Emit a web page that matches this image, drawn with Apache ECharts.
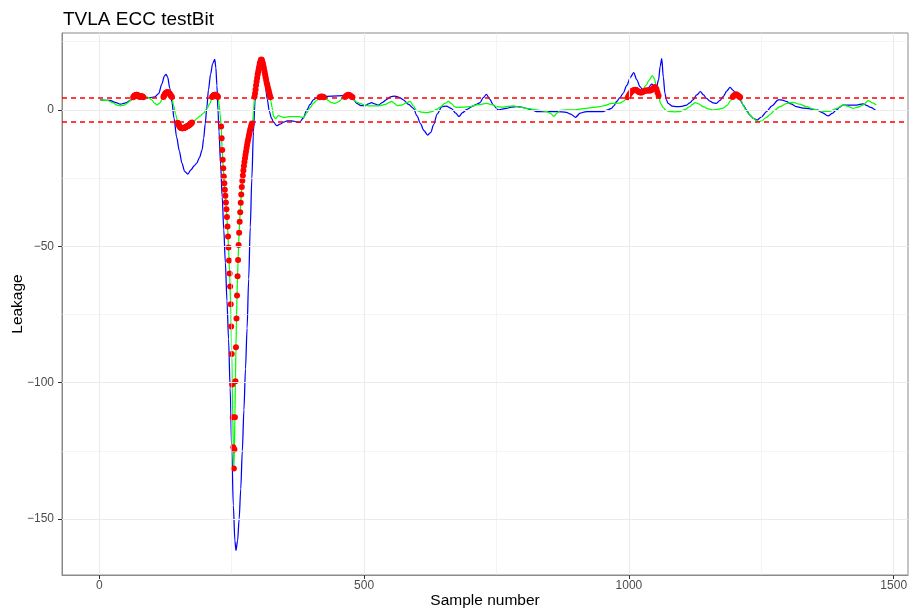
<!DOCTYPE html>
<html>
<head>
<meta charset="utf-8">
<script src="https://cdn.jsdelivr.net/npm/echarts@6/dist/echarts.min.js"></script>
<style>
html,body{margin:0;padding:0;background:#fff;}
#chart{width:909px;height:612px;}
</style>
</head>
<body>
<div id="chart"></div>
<script>
// ---- data ----
const titleText = 'TVLA ECC testBit';
const xTicks = [0, 500, 1000, 1500];
const xMinor = [250, 750, 1250];
const yTicks = [0, -50, -100, -150];
const yMinor = [25, -25, -75, -125];
const thresholds = [4.5, -4.5];

// blue series (sample number, leakage)
const blueX = [1,20,30,40,50,62,70,80,95,105,112,118,123,126,129,133,137,141,146,151,156,161,167,173,179,184,189,194,197,200,203,206,210,214,218,220,222,224,226,229,232,235,238,241,244,247,250,253,256,258,261,264,267,270,273,276,279,282,285,288,291,294,298,302,306,309,313,317,321,325,329,335,341,348,355,360,366,372,378,385,392,398,404,412,420,440,460,470,478,486,494,502,508,514,520,527,535,543,550,558,566,574,584,593,600,606,613,620,626,631,638,647,655,665,673,679,686,694,705,712,719,725,731,737,744,753,761,769,778,788,797,807,816,826,845,864,882,890,899,908,917,926,951,960,967,972,977,983,989,996,1003,1009,1015,1021,1026,1031,1037,1043,1048,1052,1056,1059,1062,1065,1068,1071,1074,1082,1090,1100,1109,1115,1121,1128,1135,1141,1146,1153,1159,1165,1172,1178,1185,1191,1197,1203,1210,1216,1222,1228,1235,1242,1250,1260,1270,1282,1290,1297,1306,1316,1329,1342,1355,1365,1376,1384,1392,1398,1404,1417,1430,1442,1450,1455,1466];
const blueY = [3.7,3.5,2.8,2.1,2.6,3.9,4.4,4.5,4.5,4.8,6,9.5,12.5,13,12,8,3,-3,-10,-15,-19.5,-22.5,-23.5,-22,-20.5,-19.5,-17.5,-14.7,-10.5,-5,1,7.3,13,17,18.5,15.5,9,0,-8,-20,-32,-44,-56,-70,-84,-102,-124,-145,-158,-161.5,-158,-150,-139,-125,-110,-95,-80,-62,-43,-25,-8,3,11,16.5,18.8,16,10,4,-0.5,-3,-4.5,-5.8,-5.2,-4.5,-4,-4,-4.1,-4.4,-4.6,-3,0,2,3.7,4.6,4.9,5.1,5.2,5.3,4.5,2.4,1.6,1.5,2.2,2.7,2.2,1.8,2.8,3.9,4.8,5.1,4.6,3.7,2,0.6,-2.2,-4.9,-7.6,-9.2,-8.2,-5.5,-1.5,1.2,1.4,0.5,-1.2,-2.4,-1,0.2,1.4,2,2.7,4.5,5.7,4,1.8,0,0.3,0.6,1,1.2,1,0.6,0,-0.6,-0.6,-0.6,-0.9,-1.5,-2.7,-1.2,-0.7,-0.6,-0.6,0,0.6,1.6,3.1,4.5,6.1,9,12,13.7,11,8.5,7.4,7.1,8.2,9.5,8.8,8.3,11,16,18.8,12,6.1,3.6,2.4,1.4,1.2,1.3,1.8,2.6,3.7,5.5,6.7,5.5,4.3,3.2,2.6,2.4,3.5,4.9,7,8.3,7.2,5.5,3.6,1.8,0,-1.8,-3.1,-3.7,-2.6,-0.6,1.5,3.7,3.6,3.1,2.2,1.2,0.7,0.4,0,-1,-2.2,-1.3,0,1,1.8,1.8,1.8,2.2,1.6,1,-0.2];

// green series (sample number, leakage)
const greenX = [1,15,25,33,40,47,52,58,64,70,76,82,87,93,99,104,109,114,118,121,125,129,133,137,140,144,147,149,154,158,164,170,174,178,184,190,197,203,209,213,217,221,224,226,228,230,232,234,236,238,240,242,244,246,248,250,251,252,253,254,255,256,257,258,259,260,261,262,263,264,265,266,267,268,269,270,272,274,276,278,280,282,284,286,288,290,291,293,295,297,299,301,303,305,306,308,310,312,314,316,318,320,322,324,326,329,333,338,348,358,367,377,386,392,398,404,410,416,420,424,430,437,445,452,458,464,470,476,480,486,492,500,510,518,528,540,546,552,557,562,570,580,587,593,599,608,618,628,637,645,652,659,665,670,675,687,700,715,731,740,750,760,772,782,795,807,819,832,845,852,858,864,870,882,895,908,920,932,945,955,967,975,983,990,996,1000,1005,1010,1016,1022,1027,1032,1038,1044,1048,1052,1056,1060,1065,1070,1077,1087,1096,1106,1115,1120,1125,1132,1140,1150,1159,1168,1178,1186,1192,1196,1200,1204,1208,1212,1216,1222,1228,1235,1241,1246,1252,1259,1266,1275,1285,1297,1310,1322,1335,1350,1367,1380,1392,1404,1414,1423,1432,1442,1452,1460,1467];
const greenY = [3.7,3.5,2.7,1.8,1.5,1.8,2.4,3.3,4.5,5.5,4.8,4.9,4.9,4.5,3.7,2.5,1.8,2.5,3.7,4.7,6.1,6.5,5.9,4.7,1.8,-1.5,-3.7,-5,-6.5,-6.7,-6.2,-5.5,-4.8,-4.3,-3.2,-2.3,-1.2,0.5,2.4,4.6,5.5,5.6,4.8,2.5,-1.5,-6.1,-14.7,-21.4,-26.9,-31.5,-36.4,-42.7,-50.4,-60,-71.2,-89.5,-100.7,-112.7,-123.7,-131.5,-124.5,-112.7,-99.5,-87,-76.5,-68,-61,-55,-49.5,-45,-41,-37.5,-34,-31,-28.3,-26,-22.2,-19.1,-16.4,-14,-11.8,-9.8,-8,-6.4,-5,-3.5,-1,4.8,7.5,10.4,13,15,17,18.3,18.5,17.5,16,14,12,10,8.4,6.8,5.2,3.2,1,-2.4,-3.2,-2.1,-2.7,-2.5,-2.5,-2.5,-2.7,-1,0.8,2.4,3.4,4.6,4.9,4.6,3.7,2.8,2.4,3,4,4.7,5.6,4.9,3.7,2.9,2.4,1.9,1.5,1.5,1.5,2,2.6,3.1,2.4,1.6,1.8,2.6,3.1,1.5,-0.2,-0.8,-1,-0.6,0.2,1.2,2.4,3.1,2.3,1.3,0.9,1,1.2,1.9,2.4,2,1.2,1,1.3,1.5,1,0.5,0.2,-0.2,-0.6,-1.3,-2.4,-1.2,-0.2,0,0,0.3,0.6,0.9,1.2,1.7,2.4,2.4,2.5,3.2,4.3,5.4,6.6,7.2,7,6.8,7.8,9,10.8,12.6,11.5,8.5,5,2.3,0.8,-0.2,-0.6,-0.7,-0.6,0.2,1.2,2,2.7,2.2,1.2,0.4,0,0.2,0.7,1.8,3.4,4.7,5.5,5.6,4.9,3.5,1.5,-0.5,-1.8,-3.1,-4,-4.3,-3.8,-2.8,-1.8,-0.2,1.2,2.3,2.8,2.1,1.2,0.2,-0.6,-0.5,0.6,1.8,1.3,0.6,1,1.8,3.4,2.6,1.8];

// red points: samples whose leakage exceeds the threshold
const redX = [64,65,66,67,68,69,70,71,72,73,74,75,76,77,78,79,80,81,82,83,
  121,122,123,124,125,126,127,128,129,130,131,132,133,134,135,136,137,
  148,149,150,151,152,153,154,155,156,157,158,159,160,161,162,163,164,165,166,167,168,169,170,171,172,173,174,175,
  213,214,215,216,217,218,219,220,221,222,223,224,
  230,231,232,233,234,235,236,237,238,239,240,241,242,243,244,245,246,247,248,249,250,251,252,253,254,255,256,257,258,259,260,261,262,263,264,265,266,267,268,269,270,271,272,273,274,275,276,277,278,279,280,281,282,283,284,285,286,287,288,
  293,294,295,296,297,298,299,300,301,302,303,304,305,306,307,308,309,310,311,312,313,314,315,316,317,318,319,320,321,322,323,
  416,418,420,422,424,
  464,466,468,470,472,474,476,478,
  998,1000,1002,1004,1006,1008,1010,1012,1014,1016,1018,1020,1022,1024,1026,1028,1030,1032,1034,1036,1038,1040,1042,1044,1046,1048,1050,1052,1054,1056,
  1196,1198,1200,1202,1204,1206,1208,1210];
const redY = [4.6,4.9,5.1,5.3,5.4,5.5,5.6,5.6,5.5,5.3,5.1,4.9,4.8,4.8,4.9,5.0,5.0,4.9,4.8,4.6,
  4.7,5.1,5.5,5.8,6.1,6.3,6.4,6.5,6.5,6.4,6.3,6.1,5.9,5.6,5.3,5.0,4.7,
  -4.7,-5.1,-5.5,-5.9,-6.2,-6.4,-6.5,-6.6,-6.7,-6.7,-6.7,-6.6,-6.6,-6.5,-6.4,-6.3,-6.2,-6.1,-6.0,-5.9,-5.8,-5.6,-5.5,-5.3,-5.2,-5.0,-4.8,-4.6,
  4.7,5.0,5.2,5.4,5.5,5.6,5.6,5.5,5.4,5.2,5.0,4.7,
  -6.1,-10.4,-14.7,-18.3,-21.4,-24.4,-26.9,-29.3,-31.5,-33.9,-36.4,-39.3,-42.7,-46.4,-50.4,-55.2,-60,-64.7,-71.2,-79.4,-89.5,-100.7,-112.7,-123.7,-131.5,-124.5,-112.7,-99.5,-87,-76.5,-68,-61,-55,-49.5,-45,-41,-37.5,-34,-31,-28.3,-26,-24,-22.2,-20.6,-19.1,-17.7,-16.4,-15.2,-14,-12.9,-11.8,-10.8,-9.8,-8.9,-8,-7.2,-6.4,-5.7,-5,
  4.8,6,7.5,9,10.4,11.7,13,14,15,16,17,17.7,18.3,18.5,18.2,17.5,16.8,16,15,14,13,12,11,10,9.2,8.4,7.6,6.8,6,5.2,4.6,
  4.6,4.8,4.9,4.8,4.6,
  4.7,5.1,5.4,5.6,5.5,5.2,4.9,4.6,
  4.6,5.4,6.0,6.5,6.9,7.1,7.3,7.4,7.3,7.0,6.7,6.5,6.4,6.4,6.6,6.8,7.0,7.1,7.1,7.1,7.1,7.1,7.2,7.5,7.9,8.3,8.3,7.6,6.4,5.2,
  4.7,5.2,5.5,5.7,5.6,5.3,4.9,4.6];

// ---- chart ----
const zip = (xs, ys) => xs.map((x, i) => [x, ys[i]]);
const FONT = '"Liberation Sans", Arial, Helvetica, sans-serif';
const GRID_COLOR = '#ebebeb';

const gridLines = [];
xTicks.forEach(v => gridLines.push({xAxis: v, lineStyle: {color: GRID_COLOR, width: 1.1, type: 'solid'}}));
xMinor.forEach(v => gridLines.push({xAxis: v, lineStyle: {color: GRID_COLOR, width: 0.55, type: 'solid'}}));
yTicks.forEach(v => gridLines.push({yAxis: v, lineStyle: {color: GRID_COLOR, width: 1.1, type: 'solid'}}));
yMinor.forEach(v => gridLines.push({yAxis: v, lineStyle: {color: GRID_COLOR, width: 0.55, type: 'solid'}}));

const chart = echarts.init(document.getElementById('chart'), null, {renderer: 'canvas'});
chart.setOption({
  animation: false,
  backgroundColor: '#ffffff',
  textStyle: {fontFamily: FONT},
  title: {
    text: titleText, left: 58, top: 5,
    textStyle: {fontFamily: FONT, fontSize: 19, fontWeight: 'normal', color: '#000'}
  },
  grid: {left: 62, top: 33, right: 1, bottom: 37, containLabel: false, outerBoundsMode: 'none',
         show: true, borderColor: '#8a8a8a', borderWidth: 1, backgroundColor: 'transparent'},
  xAxis: {
    type: 'value', min: -70.5, max: 1527,
    name: 'Sample number', nameLocation: 'middle', nameGap: 18, nameMoveOverlap: false,
    nameTextStyle: {fontFamily: FONT, fontSize: 15.5, color: '#000'},
    axisLine: {show: true, onZero: false, lineStyle: {color: '#8a8a8a', width: 1}},
    axisTick: {show: true, length: 4, customValues: xTicks, lineStyle: {color: '#333', width: 1}},
    axisLabel: {show: true, customValues: xTicks, margin: 5, fontFamily: FONT, fontSize: 12, color: '#4d4d4d',
                formatter: v => String(v)},
    splitLine: {show: false}, minorTick: {show: false}, minorSplitLine: {show: false}
  },
  yAxis: {
    type: 'value', min: -170.5, max: 28.2,
    name: 'Leakage', nameLocation: 'middle', nameGap: 36, nameRotate: 90, nameMoveOverlap: false,
    nameTextStyle: {fontFamily: FONT, fontSize: 15.5, color: '#000'},
    axisLine: {show: true, onZero: false, lineStyle: {color: '#8a8a8a', width: 1}},
    axisTick: {show: true, length: 4, customValues: yTicks, lineStyle: {color: '#333', width: 1}},
    axisLabel: {show: true, customValues: yTicks, margin: 8, fontFamily: FONT, fontSize: 12, color: '#4d4d4d',
                formatter: v => String(v).replace('-', '\u2212')},
    splitLine: {show: false}, minorTick: {show: false}, minorSplitLine: {show: false}
  },
  series: [
    {
      name: 'grid', type: 'line', data: [[0, 0]], symbol: 'none', silent: true, z: 1,
      lineStyle: {opacity: 0},
      markLine: {silent: true, symbol: 'none', label: {show: false}, animation: false, data: gridLines}
    },
    {
      name: 'blue', type: 'line', data: zip(blueX, blueY), symbol: 'none', smooth: 0.3, smoothMonotone: 'x',
      lineStyle: {color: '#0000ff', width: 1.25}, z: 2, silent: true
    },
    {
      name: 'green', type: 'line', data: zip(greenX, greenY), symbol: 'none', smooth: 0.3, smoothMonotone: 'x',
      lineStyle: {color: '#00ff00', width: 1.25}, z: 3, silent: true
    },
    {
      name: 'red', type: 'scatter', data: zip(redX, redY), symbol: 'circle', symbolSize: 6,
      itemStyle: {color: '#ff0000', opacity: 1}, z: 4, silent: true,
      markLine: {
        silent: true, symbol: 'none', label: {show: false}, animation: false,
        lineStyle: {color: '#ff0000', width: 1.5, type: [5, 4]},
        data: thresholds.map(t => ({yAxis: t}))
      }
    }
  ]
});
</script>
</body>
</html>
